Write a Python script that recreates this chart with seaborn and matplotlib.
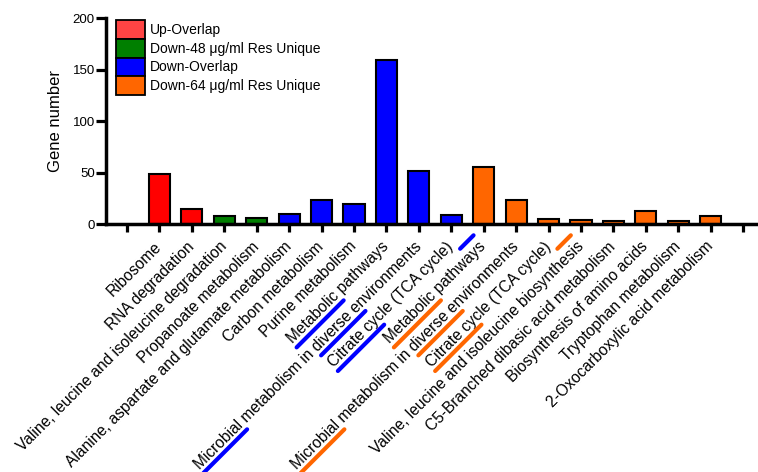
import matplotlib
matplotlib.use('Agg')
import matplotlib.pyplot as plt
from matplotlib.patches import Patch
from matplotlib.lines import Line2D
import seaborn as sns
import numpy as np
import pandas as pd

# Данные
terms = [
    "Ribosome",
    "RNA degradation",
    "Valine, leucine and isoleucine degradation",
    "Propanoate metabolism",
    "Alanine, aspartate and glutamate metabolism",
    "Carbon metabolism",
    "Purine metabolism",
    "Metabolic pathways",
    "Microbial metabolism in diverse environments",
    "Citrate cycle (TCA cycle)",
    "Metabolic pathways",
    "Microbial metabolism in diverse environments",
    "Citrate cycle (TCA cycle)",
    "Valine, leucine and isoleucine biosynthesis",
    "C5-Branched dibasic acid metabolism",
    "Biosynthesis of amino acids",
    "Tryptophan metabolism",
    "2-Oxocarboxylic acid metabolism",
]
gene_counts = [49, 15, 8, 6, 10, 23, 19, 159, 51, 9, 55, 23, 5, 4, 3, 13, 3, 8]
groups = (["Up-Overlap"] * 2 + ["Down-48 \u03bcg/ml Res Unique"] * 2
          + ["Down-Overlap"] * 6 + ["Down-64 \u03bcg/ml Res Unique"] * 8)
group_names = ["Up-Overlap", "Down-48 \u03bcg/ml Res Unique",
               "Down-Overlap", "Down-64 \u03bcg/ml Res Unique"]
group_colors = ["#FF0000", "#007F00", "#0000FF", "#FF6600"]
legend_colors = ["#FF4444", "#007F00", "#0000FF", "#FF6600"]

# подчёркивания (индекс подписи, подстрока, цвет); None = штрих после конца подписи
highlights = [
    (7, "Metabolic", "#0000FF"),
    (8, "Microbial", "#0000FF"),
    (8, "diverse e", "#0000FF"),
    (9, "Citrate cy", "#0000FF"),
    (9, None, "#0000FF"),
    (10, "Metabolic", "#FF6600"),
    (11, "Microbial", "#FF6600"),
    (11, "diverse e", "#FF6600"),
    (12, "Citrate cy", "#FF6600"),
    (12, None, "#FF6600"),
]

df = pd.DataFrame({"pos": np.arange(len(terms)), "count": gene_counts, "group": groups})

sns.set_style("ticks")
plt.rcParams['font.family'] = ['Liberation Sans', 'DejaVu Sans']
for key in ['text.color', 'axes.labelcolor', 'xtick.color', 'ytick.color', 'axes.edgecolor']:
    plt.rcParams[key] = 'black'

fig = plt.figure(figsize=(7.58, 4.72), dpi=100)
ax = fig.add_axes([0.1398, 0.5254, 0.8602, 0.4364])

sns.barplot(data=df, x="pos", y="count", hue="group", hue_order=group_names,
            palette=dict(zip(group_names, group_colors)), dodge=False, width=0.65,
            saturation=1, edgecolor="black", linewidth=1.5, legend=False, ax=ax)

n = len(terms)
ax.set_xlim(-1.65, n + 0.46)
ax.set_ylim(0, 200)
ax.set_yticks([0, 50, 100, 150, 200])
ax.set_xticks(np.arange(-1, n + 1))
ax.set_xticklabels([""] + terms + [""], rotation=45, ha="right", va="center",
                   rotation_mode="anchor", fontsize=11.2)
ax.set_xlabel("")
ax.set_ylabel("Gene number", fontsize=12, labelpad=7)

for side in ["top", "right"]:
    ax.spines[side].set_visible(False)
ax.spines["left"].set_linewidth(2.5)
ax.spines["bottom"].set_linewidth(2.5)
ax.tick_params(axis="x", length=6, width=2.3, pad=8.5)
ax.tick_params(axis="y", length=7, width=2.3, labelsize=9.5, pad=1)

handles = [Patch(facecolor=c, edgecolor="black", linewidth=1.3) for c in legend_colors]
ax.legend(handles, group_names, loc="upper left", bbox_to_anchor=(0.153, 0.957),
          bbox_transform=fig.transFigure, frameon=False, fontsize=10,
          handlelength=2.1, handleheight=1.69, handletextpad=0.35,
          labelspacing=0.0, borderpad=0, borderaxespad=0)

# штрихи-подчёркивания вдоль повернутых подписей
fig.canvas.draw()
renderer = fig.canvas.get_renderer()
labels = ax.get_xticklabels()
u = np.array([np.cos(np.pi / 4), np.sin(np.pi / 4)])
v = np.array([-np.sin(np.pi / 4), np.cos(np.pi / 4)])
inv = fig.transFigure.inverted()
for idx, sub, color in highlights:
    lab = labels[idx + 1]
    text = lab.get_text()
    prop = lab.get_fontproperties()
    anchor = np.array(lab.get_transform().transform(lab.get_position()))
    total_w, _, _ = renderer.get_text_width_height_descent(text, prop, ismath=False)
    _, h_lp, d_lp = renderer.get_text_width_height_descent("lp", prop, ismath=False)
    base = anchor - (h_lp / 2 - d_lp) * v - 5 * v
    if sub is None:
        s0, s1 = total_w + 3, total_w + 22
    else:
        i = text.index(sub)
        s0 = renderer.get_text_width_height_descent(text[:i], prop, ismath=False)[0] if i else 0
        s1 = renderer.get_text_width_height_descent(text[:i + len(sub)], prop, ismath=False)[0]
    p0 = inv.transform(base - (total_w - s0) * u)
    p1 = inv.transform(base - (total_w - s1) * u)
    fig.add_artist(Line2D([p0[0], p1[0]], [p0[1], p1[1]], color=color, linewidth=3,
                          solid_capstyle="round", transform=fig.transFigure))

plt.savefig("out.png", dpi=100)
plt.close()
